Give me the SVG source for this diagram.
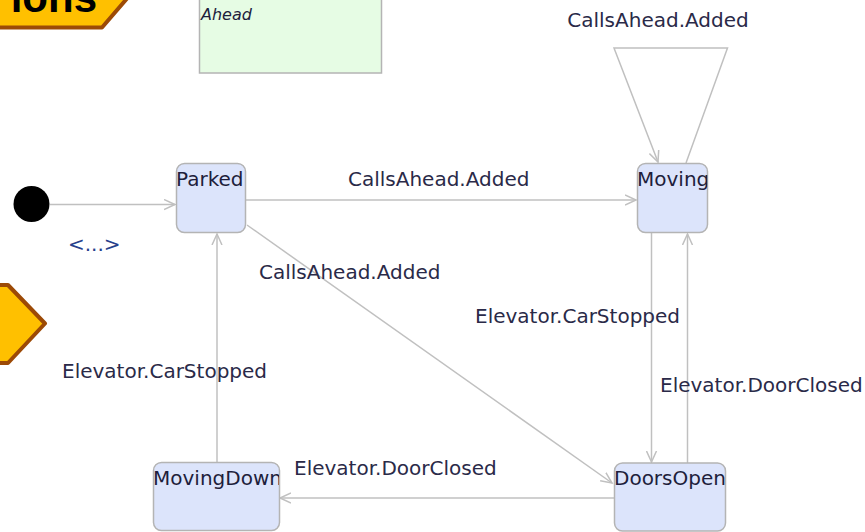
<svg xmlns="http://www.w3.org/2000/svg" width="865" height="532" viewBox="0 0 865 532">
<defs>
<style>
.node{fill:#DCE4FB;stroke:#B4B4B4;stroke-width:1.5}
.nlabel{font-family:"DejaVu Sans",sans-serif;font-size:20px;fill:#1E1E3C}
.elabel{font-family:"DejaVu Sans",sans-serif;font-size:20px;fill:#2A2A48}
.conn{fill:none;stroke:#C0C0C0;stroke-width:1.5}
.banner{fill:#FFC000;stroke:#9C4A06;stroke-width:4;stroke-linejoin:round}
</style>
<marker id="arr" markerWidth="14" markerHeight="12" refX="11" refY="6" orient="auto" markerUnits="userSpaceOnUse">
<path d="M0,1 L11,6 L0,11" fill="none" stroke="#C0C0C0" stroke-width="1.5"/>
</marker>
<clipPath id="cParked"><rect x="176" y="163" width="70" height="70"/></clipPath>
<clipPath id="cMoving"><rect x="637" y="163" width="70.5" height="70"/></clipPath>
<clipPath id="cMovingDown"><rect x="153" y="462" width="126" height="70"/></clipPath>
<clipPath id="cDoorsOpen"><rect x="614" y="463" width="111.5" height="70"/></clipPath>
<clipPath id="cBottomLbl"><rect x="280" y="440" width="217" height="50"/></clipPath>
<clipPath id="cRightLbl"><rect x="640" y="360" width="222" height="50"/></clipPath>
</defs>

<g id="banner-top">
<polygon class="banner" points="-10,-5 130,-5 102,27.5 -10,27.5"/>
<text x="97" y="12" text-anchor="end" font-family="Liberation Sans,Arial,sans-serif" font-weight="bold" font-size="42" fill="#000">ions</text>
</g>

<g id="banner-left">
<polygon class="banner" points="-10,285 8,285 45,323.5 8,363 -10,363"/>
</g>

<g id="note">
<rect x="199.5" y="-5" width="182" height="78" fill="#E6FCE4" stroke="#B4B4B4" stroke-width="1.5"/>
<text x="201" y="20" font-family="DejaVu Sans,sans-serif" font-style="italic" font-size="16" fill="#1E1E3C">Ahead</text>
</g>

<g id="initial">
<circle cx="31.5" cy="204" r="18" fill="#000"/>
</g>

<g id="connectors">
<line class="conn" x1="50" y1="204.5" x2="175" y2="204.5" marker-end="url(#arr)"/>
<line class="conn" x1="246" y1="200" x2="636" y2="200" marker-end="url(#arr)"/>
<polyline class="conn" points="686,163 727.5,48 614,48 658,162" marker-end="url(#arr)"/>
<line class="conn" x1="247" y1="225" x2="612" y2="483" marker-end="url(#arr)"/>
<line class="conn" x1="651.5" y1="233" x2="651.5" y2="462" marker-end="url(#arr)"/>
<line class="conn" x1="687.5" y1="463" x2="687.5" y2="234" marker-end="url(#arr)"/>
<line class="conn" x1="614" y1="498" x2="280" y2="498" marker-end="url(#arr)"/>
<line class="conn" x1="217" y1="462" x2="217" y2="234" marker-end="url(#arr)"/>
</g>

<g id="labels">
<text class="elabel" x="658" y="27" text-anchor="middle">CallsAhead.Added</text>
<text class="elabel" x="348" y="186">CallsAhead.Added</text>
<text x="68" y="251" font-family="DejaVu Sans,sans-serif" font-size="20" fill="#26408C">&lt;...&gt;</text>
<text class="elabel" x="259" y="279">CallsAhead.Added</text>
<text class="elabel" x="475" y="323">Elevator.CarStopped</text>
<text class="elabel" x="62" y="378">Elevator.CarStopped</text>
<text class="elabel" x="660" y="392" clip-path="url(#cRightLbl)">Elevator.DoorClosed</text>
<text class="elabel" x="294" y="475" clip-path="url(#cBottomLbl)">Elevator.DoorClosed</text>
</g>

<g id="Parked">
<rect class="node" x="176.5" y="163.5" width="69" height="69" rx="8"/>
<text class="nlabel" x="176" y="186" clip-path="url(#cParked)">Parked</text>
</g>
<g id="Moving">
<rect class="node" x="637.5" y="163.5" width="70" height="69" rx="8"/>
<text class="nlabel" x="637" y="186" clip-path="url(#cMoving)">Moving</text>
</g>
<g id="MovingDown">
<rect class="node" x="153.5" y="462.5" width="126" height="68" rx="8"/>
<text class="nlabel" x="153" y="485" clip-path="url(#cMovingDown)">MovingDown</text>
</g>
<g id="DoorsOpen">
<rect class="node" x="614.5" y="463" width="111" height="68" rx="8"/>
<text class="nlabel" x="614" y="485" clip-path="url(#cDoorsOpen)">DoorsOpen</text>
</g>
</svg>
